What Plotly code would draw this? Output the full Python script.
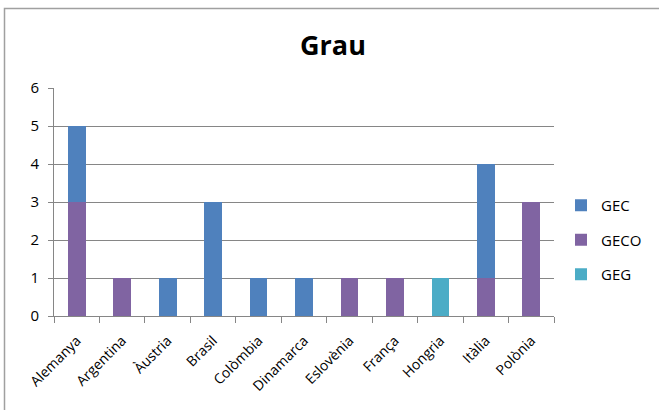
import plotly.graph_objects as go

categories = ["Alemanya", "Argentina", "Àustria", "Brasil", "Colòmbia", "Dinamarca",
              "Eslovènia", "França", "Hongria", "Itàlia", "Polònia"]
gec = [2, 0, 1, 3, 1, 1, 0, 0, 0, 3, 0]
geco = [3, 1, 0, 0, 0, 0, 1, 1, 0, 1, 3]
geg = [0, 0, 0, 0, 0, 0, 0, 0, 1, 0, 0]
y_ticks = [0, 1, 2, 3, 4, 5, 6]

W, H = 659, 410
L, R, T, B = 54, 105, 88, 94
pw, ph = W - L - R, H - T - B

def px_x(x):
    return (x - L) / pw

def px_y(y):
    return (H - B - y) / ph

font = "Open Sans, Noto Sans, sans-serif"

fig = go.Figure()
for rank, (name, vals, color) in zip([3, 2, 1], [("GEG", geg, "#4BACC6"), ("GECO", geco, "#8064A2"),
                                                  ("GEC", gec, "#4F81BD")]):
    fig.add_trace(go.Bar(x=categories, y=vals, name=name, marker_color=color,
                         marker_line_width=0, legendgroup=name, legendrank=rank))

fig.update_layout(
    width=W, height=H,
    barmode="stack", bargap=0.61,
    margin=dict(l=L, r=R, t=T, b=B, autoexpand=False),
    paper_bgcolor="white", plot_bgcolor="white",
    font=dict(family=font, size=14, color="#000000"),
    title=dict(text="<b>Grau</b>", x=px_x(333), xanchor="center", xref="paper",
               y=1 - 46 / H, yanchor="middle",
               font=dict(family=font, size=27, color="#000000")),
    legend=dict(x=px_x(561), xanchor="left", y=px_y(240), yanchor="middle",
                traceorder="grouped", tracegroupgap=12,
                font=dict(family=font, size=15, color="#000000"),
                itemwidth=30, bgcolor="rgba(0,0,0,0)"),
    xaxis=dict(showline=True, linecolor="#868686", linewidth=1, ticks="outside",
               tickson="boundaries", ticklen=6, tickcolor="#868686", tickangle=-45,
               tickfont=dict(family=font, size=14, color="#000000"), showgrid=False,
               automargin=False, ticklabelstandoff=10),
    yaxis=dict(range=[0, 6], tickvals=y_ticks, showline=True, linecolor="#868686", linewidth=1,
               ticks="outside", ticklen=5, tickcolor="#868686", showgrid=True,
               gridcolor="#868686", gridwidth=1, zeroline=False, automargin=False,
               ticklabelstandoff=6,
               tickfont=dict(family=font, size=15, color="#000000")),
    shapes=[dict(type="rect", xref="paper", yref="paper",
                 x0=px_x(4.5), x1=px_x(700), y0=px_y(450), y1=px_y(8.5),
                 line=dict(color="#A0A0A0", width=1.5), layer="below")],
)

fig.write_html("out.html", config={"displayModeBar": False},
               post_script="document.body.style.margin='0';document.body.style.overflow='hidden';")
